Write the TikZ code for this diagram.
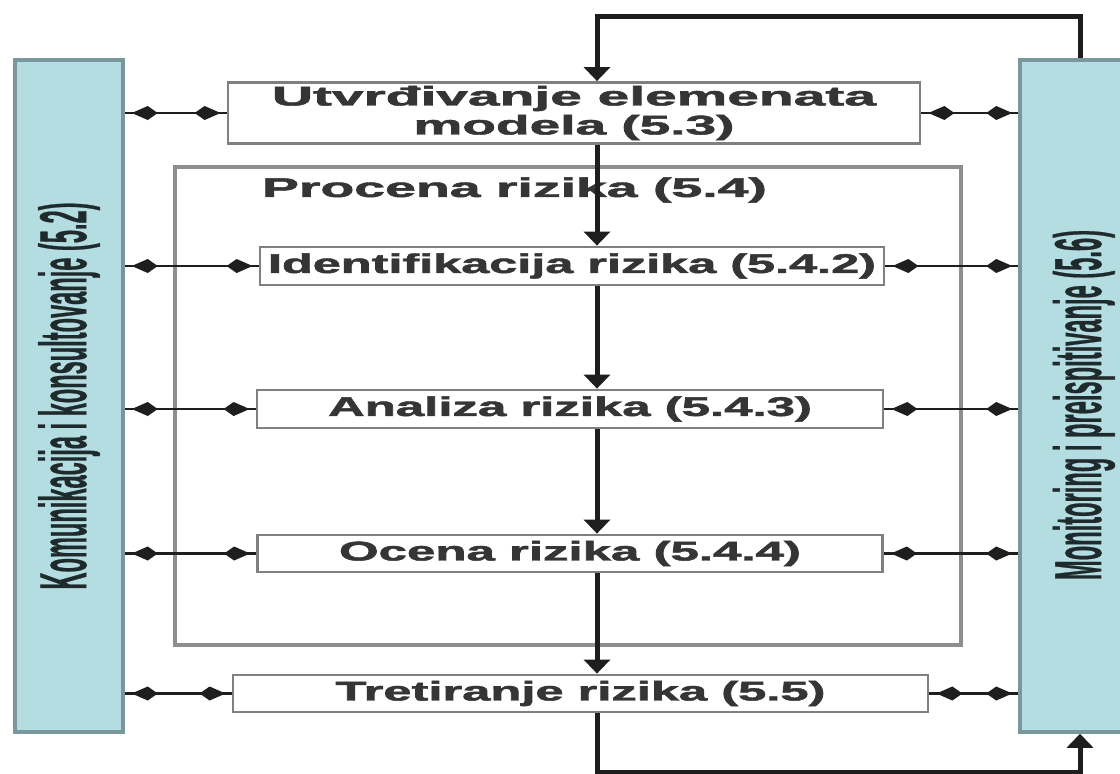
\documentclass[tikz,border=0pt]{standalone}
\usepackage{fontspec}
\setmainfont{Liberation Sans}
\newfontfamily\heavyfont[FakeBold=1.6]{Liberation Sans Bold}
\newfontfamily\barfont[FakeBold=0.8]{Liberation Sans Bold}
\usetikzlibrary{arrows.meta,decorations.markings}
\definecolor{barfill}{HTML}{B4DDE2}
\definecolor{barline}{HTML}{7A979B}
\definecolor{boxline}{HTML}{808080}
\definecolor{frameline}{HTML}{8E8E8E}
\definecolor{txt}{HTML}{353535}
\definecolor{bartxt}{HTML}{1F2A2C}
\definecolor{flow}{HTML}{1E1E1E}
\newcommand{\fitw}[2]{\resizebox{#1}{\height}{#2}}
\tikzset{
  bar/.style={draw=barline, line width=3.5pt, fill=barfill, inner sep=0pt, text=bartxt,
    font=\fontsize{26}{30}\selectfont\barfont},
  stepbox/.style={draw=boxline, line width=2.8pt, fill=white, inner sep=0pt, text=txt,
    font=\fontsize{27}{29}\selectfont\heavyfont, align=center},
  frame/.style={draw=frameline, line width=3.5pt, inner sep=0pt},
  lbl/.style={text=txt, font=\fontsize{27}{30}\selectfont\heavyfont, inner sep=0pt},
  flowline/.style={draw=flow, line width=5pt},
  flowarrow/.style={flowline, -{Triangle[length=14pt,width=26pt]}},
  link/.style={draw=flow, line width=2.6pt, postaction=decorate,
    decoration={markings,
      mark=at position 7pt with {\arrowreversed{Kite[length=26pt,width=14pt,inset=10pt]}},
      mark=at position -6pt with {\arrow{Kite[length=26pt,width=14pt,inset=10pt]}}}}
}
\begin{document}
\begin{tikzpicture}[x=1pt,y=-1pt]
\useasboundingbox (0,0) rectangle (1120,774);
\clip (0,0) rectangle (1120,774);
\fill[white] (0,0) rectangle (1120,774);

% side bars
\node[bar, minimum width=108pt, minimum height=672pt] (kom) at (69,396)
  {\rotatebox{90}{\resizebox{387pt}{48pt}{Komunikacija i konsultovanje (5.2)}}};
\node[bar, minimum width=120pt, minimum height=672pt] (mon) at (1080,396)
  {\rotatebox{90}{\hspace*{-18pt}\resizebox{350pt}{48pt}{Monitoring i preispitivanje (5.6)}}\hspace*{-8pt}};

% risk assessment frame
\node[frame, minimum width=786pt, minimum height=478pt] (proc) at (568,406) {};
\node[lbl] (proctitle) at (514.5,190) {\fitw{505pt}{Procena rizika (5.4)}};

% process steps
\node[stepbox, minimum width=692pt, minimum height=61pt] (utv) at (574,113)
  {\fitw{604pt}{Utvrđivanje elemenata}\\ \fitw{321pt}{modela (5.3)}};
\node[stepbox, minimum width=624pt, minimum height=38pt] (ide) at (572,266)
  {\fitw{608pt}{Identifikacija rizika (5.4.2)}};
\node[stepbox, minimum width=626pt, minimum height=38pt] (ana) at (570,409)
  {\fitw{484pt}{Analiza rizika (5.4.3)}};
\node[stepbox, minimum width=625pt, minimum height=37pt] (oce) at (570,553.5)
  {\fitw{462pt}{Ocena rizika (5.4.4)}};
\node[stepbox, minimum width=695pt, minimum height=37pt] (tre) at (580.5,693.5)
  {\fitw{490pt}{Tretiranje rizika (5.5)}};

% main flow
\coordinate (spine) at (597,0);
\coordinate (topleft) at (597,16);
\coordinate (botleft) at (597,772);
\draw[flowarrow] (mon.north) |- (topleft) -- (utv.north -| spine);
\draw[flowarrow] (utv.south -| spine) -- (ide.north -| spine);
\draw[flowarrow] (ide.south -| spine) -- (ana.north -| spine);
\draw[flowarrow] (ana.south -| spine) -- (oce.north -| spine);
\draw[flowarrow] (oce.south -| spine) -- (tre.north -| spine);
\draw[flowarrow] (tre.south -| spine) -- (botleft) -| (mon.south);

% communication links
\foreach \b in {utv,ide,ana,oce,tre}{
  \draw[link] (\b.west -| kom.east) -- (\b.west);
  \draw[link] (\b.east) -- (\b.east -| mon.west);
}
\end{tikzpicture}
\end{document}
